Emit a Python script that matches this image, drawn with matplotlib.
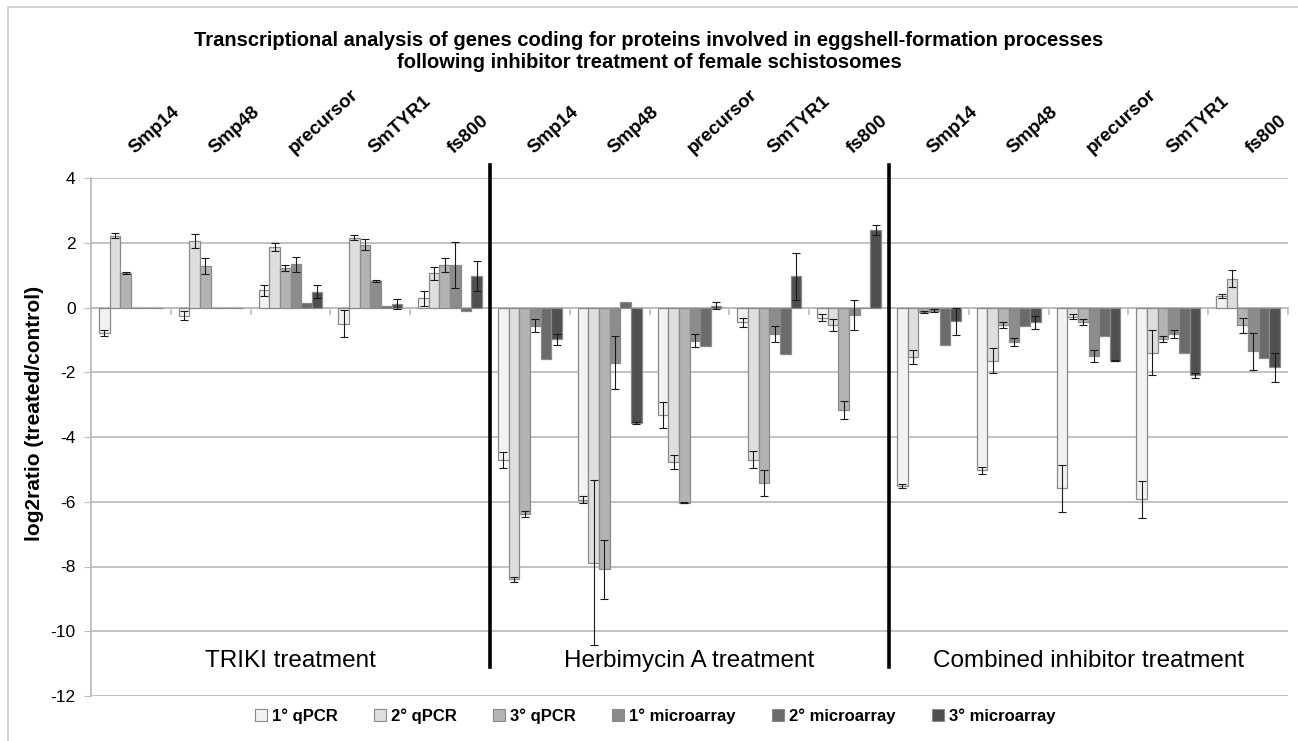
import numpy as np
import matplotlib
matplotlib.use("Agg")
import matplotlib.pyplot as plt
from matplotlib.lines import Line2D
from matplotlib.patches import Patch

plt.rcParams['font.family'] = ['Liberation Sans', 'DejaVu Sans']
plt.rcParams['axes.unicode_minus'] = False

# ---------------- data ----------------
genes = ['Smp14', 'Smp48', 'precursor', 'SmTYR1', 'fs800']
categories = genes * 3
treatments = ['TRIKI treatment', 'Herbimycin A treatment', 'Combined inhibitor treatment']
series_names = ['1° qPCR', '2° qPCR', '3° qPCR', '1° microarray', '2° microarray', '3° microarray']

qpcr1 = [-0.80, -0.25, 0.53, -0.50, 0.28, -4.71, -5.94, -3.32, -0.45, -0.31, -5.52, -5.03, -5.59, -5.92, 0.35]
qpcr1_err = [0.09, 0.15, 0.17, 0.42, 0.22, 0.24, 0.11, 0.41, 0.14, 0.11, 0.06, 0.10, 0.74, 0.57, 0.06]
qpcr2 = [2.22, 2.06, 1.88, 2.16, 1.06, -8.40, -7.89, -4.78, -4.70, -0.54, -1.52, -1.64, -0.28, -1.39, 0.89]
qpcr2_err = [0.08, 0.22, 0.12, 0.07, 0.20, 0.09, 2.55, 0.22, 0.27, 0.18, 0.22, 0.38, 0.09, 0.68, 0.26]
qpcr3 = [1.06, 1.27, 1.23, 1.94, 1.31, -6.39, -8.09, -6.03, -5.41, -3.17, -0.14, -0.53, -0.45, -0.97, -0.55]
qpcr3_err = [0.03, 0.25, 0.09, 0.17, 0.22, 0.09, 0.90, 0.02, 0.40, 0.28, 0.04, 0.09, 0.10, 0.09, 0.23]
micro1 = [0.0, 0.0, 1.34, 0.81, 1.32, -0.56, -1.71, -1.02, -0.82, -0.23, -0.10, -1.06, -1.49, -0.82, -1.35]
micro1_err = [None, None, 0.23, 0.03, 0.71, 0.21, 0.82, 0.19, 0.25, 0.45, 0.05, 0.13, 0.19, 0.12, 0.57]
micro2 = [0.0, 0.0, 0.13, 0.04, -0.10, -1.59, 0.18, -1.20, -1.43, -0.03, -1.15, -0.58, -0.89, -1.39, -1.57]
micro2_err = [None] * 15
micro3 = [0.0, 0.0, 0.49, 0.11, 0.98, -0.98, -3.57, 0.05, 0.96, 2.39, -0.43, -0.45, -1.64, -2.10, -1.85]
micro3_err = [None, None, 0.21, 0.15, 0.47, 0.17, 0.03, 0.11, 0.73, 0.15, 0.41, 0.20, 0.02, 0.07, 0.44]

values = [qpcr1, qpcr2, qpcr3, micro1, micro2, micro3]
errors = [qpcr1_err, qpcr2_err, qpcr3_err, micro1_err, micro2_err, micro3_err]
colors = ['#f2f2f2', '#dedede', '#b3b3b3', '#8c8c8c', '#6b6b6b', '#4f4f4f']
edge = '#8a8a8a'
grid_c = '#bdbdbd'

# ---------------- figure ----------------
W, H = 1298, 741
fig = plt.figure(figsize=(W / 100, H / 100), dpi=100)
ax = fig.add_axes([91 / W, 1 - 696 / H, 1197 / W, 518 / H])

x = np.arange(len(categories))
nser = len(values)
bw = 0.8 / nser
for j, (vals, errs, col) in enumerate(zip(values, errors, colors)):
    pos = x + (j - (nser - 1) / 2) * bw
    ax.bar(pos, vals, width=bw, color=col, edgecolor=edge, linewidth=0.9, zorder=3,
           label=series_names[j])
    ex = [p for p, e in zip(pos, errs) if e is not None]
    ey = [v for v, e in zip(vals, errs) if e is not None]
    ee = [e for e in errs if e is not None]
    if ex:
        ax.errorbar(ex, ey, yerr=ee, fmt='none', ecolor='#1a1a1a', elinewidth=0.8,
                    capsize=2.6, capthick=0.8, zorder=4)

ax.set_xlim(-0.5, len(categories) - 0.5)
ax.set_ylim(-12, 4)
ax.set_yticks(np.arange(-12, 5, 2))
ax.tick_params(axis='y', labelsize=12.5, length=5, color=grid_c, pad=6)
ax.yaxis.grid(True, color=grid_c, linewidth=1.3, zorder=0)
ax.set_axisbelow(True)

ax.spines['top'].set_visible(False)
ax.spines['right'].set_visible(False)
ax.spines['left'].set_color(grid_c)
ax.spines['left'].set_linewidth(1.3)
ax.spines['bottom'].set_position(('data', 0))
ax.spines['bottom'].set_color(grid_c)
ax.spines['bottom'].set_linewidth(1.3)
ax.spines['bottom'].set_zorder(2)
ax.set_xticks(np.arange(-0.5, len(categories) + 0.5, 1))
ax.set_xticklabels([])
ax.tick_params(axis='x', length=5, color=grid_c, width=1.2)

# y-axis title
fig.text(35 / W, 1 - 413 / H, 'log2ratio (treated/control)', rotation=90, ha='center', va='center',
         fontsize=15, fontweight='bold')

# category labels at top
for i, lab in enumerate(categories):
    ax.text(i + 0.08, 1.04, lab, transform=ax.get_xaxis_transform(), rotation=42,
            rotation_mode='anchor', ha='left', va='bottom', fontsize=13.5,
            fontweight='bold', clip_on=False)

# separators and treatment labels
for b in [4.5, 9.5]:
    ax.plot([b, b], [-11.1, 4.4], color='black', linewidth=2.6, zorder=5, clip_on=False)
for k, t in enumerate(treatments):
    ax.text(k * 5 + 2, -10.93, t, ha='center', va='center', fontsize=17.5, zorder=6)

fig.suptitle('Transcriptional analysis of genes coding for proteins involved in eggshell-formation processes\n'
             'following inhibitor treatment of female schistosomes',
             x=649 / W, y=1 - 31 / H, va='top', fontsize=14.5, fontweight='bold', linespacing=1.2)

handles = [Patch(facecolor=c, edgecolor=edge, linewidth=0.8) for c in colors]
fig.legend(handles, series_names, loc='center', bbox_to_anchor=(655 / W, 1 - 716 / H), ncol=6,
           frameon=False, prop={'weight': 'bold', 'size': 12}, handlelength=0.7, handleheight=0.7,
           handletextpad=0.3, columnspacing=2.2)

# outer chart border (cropped at right and bottom)
fig.add_artist(Line2D([8 / W, 8 / W, 1.0], [0.0, 1 - 7 / H, 1 - 7 / H], color='#d0d0d0',
                      linewidth=1.3, transform=fig.transFigure))

fig.savefig('out.png', dpi=100, facecolor='white')
